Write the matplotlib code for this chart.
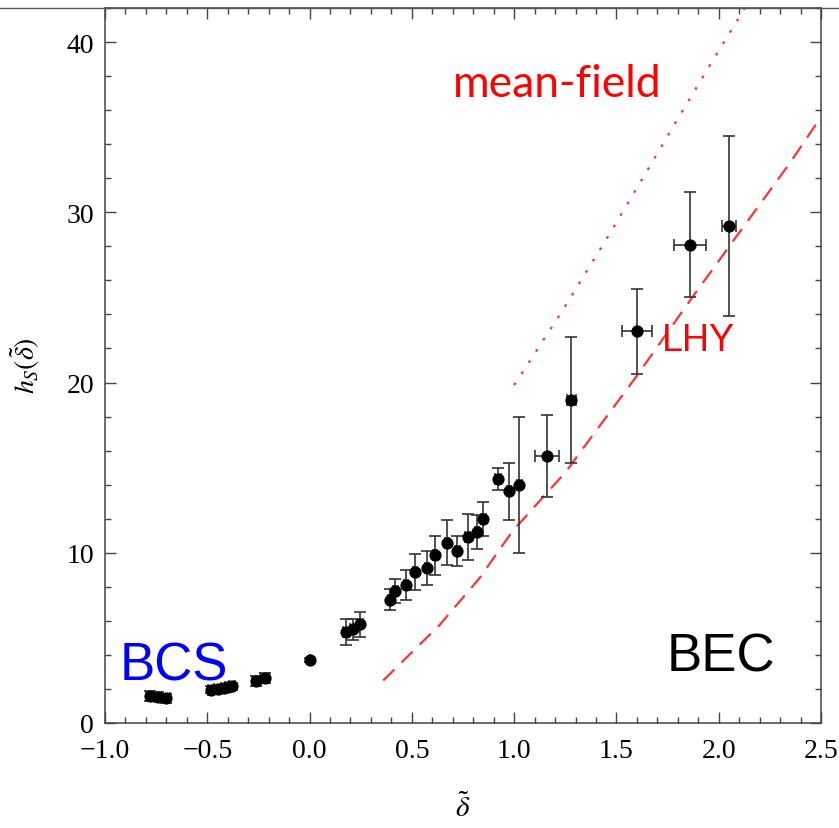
import matplotlib
matplotlib.use("Agg")
import matplotlib.pyplot as plt
from matplotlib.ticker import MultipleLocator, FixedLocator
from matplotlib.lines import Line2D

# ---- data ----
delta = [-0.78, -0.74, -0.70, -0.48, -0.45, -0.42, -0.40, -0.38, -0.26, -0.22,
         0.0, 0.18, 0.214, 0.248, 0.395, 0.42, 0.473, 0.517, 0.576, 0.615,
         0.674, 0.723, 0.772, 0.82, 0.85, 0.919, 0.973, 1.026, 1.16, 1.28,
         1.60, 1.86, 2.05]
h_s = [1.6, 1.55, 1.45, 1.95, 2.0, 2.05, 2.1, 2.15, 2.45, 2.65,
       3.7, 5.35, 5.5, 5.8, 7.25, 7.75, 8.1, 8.85, 9.1, 9.85,
       10.6, 10.1, 10.9, 11.2, 12.0, 14.35, 13.6, 14.0, 15.7, 19.0,
       23.0, 28.1, 29.2]
h_err = [0.3, 0.25, 0.25, 0.2, 0.2, 0.2, 0.2, 0.2, 0.3, 0.3,
         0.1, 0.75, 0.6, 0.73, 0.62, 0.7, 0.9, 1.05, 1.0, 1.15,
         1.3, 0.9, 1.35, 1.0, 1.0, 0.65, 1.7, 4.0, 2.4, 3.7,
         2.5, 3.1, 5.3]
d_err = [0.02, 0.02, 0.02, 0.015, 0.015, 0.015, 0.015, 0.015, 0.02, 0.02,
         0.0, 0.015, 0.015, 0.015, 0.01, 0.01, 0.01, 0.01, 0.01, 0.01,
         0.01, 0.01, 0.01, 0.01, 0.01, 0.015, 0.01, 0.01, 0.06, 0.02,
         0.073, 0.078, 0.034]

mf_x = [1.0, 1.222, 1.45, 1.648, 1.81, 2.0, 2.118, 2.14]
mf_y = [19.85, 23.96, 28.4, 32.4, 35.7, 39.5, 41.8, 42.3]

lhy_x = [0.36, 0.635, 0.83, 0.992, 1.256, 1.31, 1.6, 1.868, 2.1, 2.348, 2.5]
lhy_y = [2.5, 5.75, 8.5, 11.27, 14.8, 15.7, 20.4, 24.96, 28.8, 32.9, 35.6]

xticks = [-1.0, -0.5, 0.0, 0.5, 1.0, 1.5, 2.0, 2.5]
yticks = [0, 10, 20, 30, 40]

# ---- figure ----
plt.rcParams['mathtext.fontset'] = 'stix'
fig = plt.figure(figsize=(8.39, 8.29), dpi=100)
W, H = 839, 829
L, R, T, B = 105, 821, 9, 724
ax = fig.add_axes([L / W, 1 - B / H, (R - L) / W, (B - T) / H])

red = '#ff3333'
ax.plot(mf_x, mf_y, color=red, lw=1.6, linestyle=(0, (1.2, 4.8)))
ax.plot(lhy_x, lhy_y, color=red, lw=1.6, linestyle=(0, (7, 4.5)))

ax.errorbar(delta, h_s, yerr=h_err, xerr=d_err, fmt='o', color='black',
            ecolor='#333333', elinewidth=1.2, capsize=4.3, capthick=1.2,
            markersize=7.8, zorder=3)

ax.set_xlim(-1.0, 2.5)
ax.set_ylim(0, 42)
ax.xaxis.set_major_locator(FixedLocator(xticks))
ax.yaxis.set_major_locator(FixedLocator(yticks))
ax.xaxis.set_minor_locator(MultipleLocator(0.1))
ax.yaxis.set_minor_locator(MultipleLocator(2))
ax.set_xticklabels([f"{v:.1f}".replace('-', '\u2212') for v in xticks])
ax.set_yticklabels([str(v) for v in yticks])

for s in ax.spines.values():
    s.set_color('#444444')
    s.set_linewidth(1.1)
ax.tick_params(which='both', direction='in', top=True, right=True,
               color='#444444', width=1.0, labelsize=20)
ax.tick_params(which='major', length=8)
ax.tick_params(which='minor', length=4)
ax.tick_params(axis='x', which='major', pad=11)
ax.tick_params(axis='y', which='major', pad=8)
for lab in ax.get_xticklabels() + ax.get_yticklabels():
    lab.set_fontfamily('Liberation Serif')

# axis labels
fig.text(463 / W, 1 - 808 / H, r'$\tilde{\delta}$', fontsize=21,
         ha='center', va='center')
fig.text(25 / W, 1 - 366 / H, r'$h_S(\tilde{\delta})$', fontsize=20,
         ha='center', va='center', rotation=90)

ax.text(0.021, 0.0615, 'BCS', color='#0000ff', fontsize=38,
        family='Liberation Sans', transform=ax.transAxes, va='baseline')
ax.text(0.785, 0.074, 'BEC', color='black', fontsize=38,
        family='Liberation Sans', transform=ax.transAxes, va='baseline')
ax.text(0.778, 0.5217, 'LHY', color='#ff0000', fontsize=27,
        family='Liberation Sans', transform=ax.transAxes, va='baseline')
ax.text(0.486, 0.877, 'mean-field', color='#ff0000', fontsize=32,
        family='Lato', transform=ax.transAxes, va='baseline')

# horizontal rule across the top of the image
fig.add_artist(Line2D([0, 1], [1 - 9 / H, 1 - 9 / H], transform=fig.transFigure,
                      color='#555555', lw=1.0))

fig.savefig('out.png', dpi=100)
